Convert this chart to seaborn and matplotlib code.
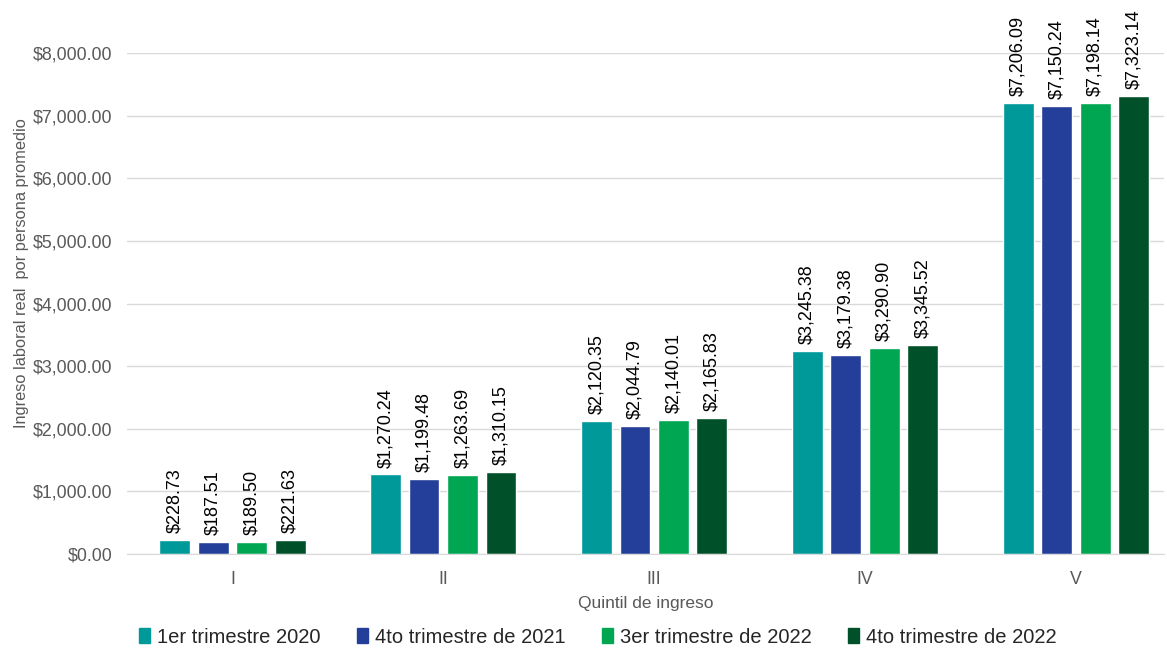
import numpy as np
import pandas as pd
import matplotlib.pyplot as plt
import seaborn as sns
from matplotlib.patches import Patch
from matplotlib.ticker import FuncFormatter

# ── Data ─────────────────────────────────────────────────────────────────────
quintiles = ['I', 'II', 'III', 'IV', 'V']
series = ['1er trimestre 2020', '4to trimestre de 2021',
          '3er trimestre de 2022', '4to trimestre de 2022']
t1_2020 = [228.73, 1270.24, 2120.35, 3245.38, 7206.09]
t4_2021 = [187.51, 1199.48, 2044.79, 3179.38, 7150.24]
t3_2022 = [189.50, 1263.69, 2140.01, 3290.90, 7198.14]
t4_2022 = [221.63, 1310.15, 2165.83, 3345.52, 7323.14]
colors = ['#009999', '#233F99', '#00A651', '#00512A']

df = pd.DataFrame({
    'quintil': quintiles * 4,
    'serie': np.repeat(series, len(quintiles)),
    'valor': t1_2020 + t4_2021 + t3_2022 + t4_2022,
})

# ── Plot ─────────────────────────────────────────────────────────────────────
sns.set_style('white')
plt.rcParams['font.family'] = ['Liberation Sans', 'DejaVu Sans']

fig = plt.figure(figsize=(11.67, 6.53), dpi=100)
ax = fig.add_axes([0.1088, 0.1516, 0.889, 0.767])

sns.barplot(data=df, x='quintil', y='valor', hue='serie', hue_order=series,
            order=quintiles, palette=colors, width=0.73, gap=0.2,
            saturation=1, ax=ax, legend=False, errorbar=None)

money = lambda v: f'${v:,.2f}'
for cont in ax.containers:
    ax.bar_label(cont, labels=[money(b.get_height()) for b in cont],
                 rotation=90, padding=5, fontsize=13, color='black',
                 clip_on=False)

ax.set_ylim(0, 8000)
ax.set_xlim(-0.5, 4.42)
ax.set_yticks(np.arange(0, 8001, 1000))
ax.yaxis.set_major_formatter(FuncFormatter(lambda v, _: money(v)))
ax.grid(axis='y', color='#d9d9d9', lw=1)
ax.set_axisbelow(True)
for s in ['top', 'right', 'left']:
    ax.spines[s].set_visible(False)
ax.spines['bottom'].set_color('#d9d9d9')
ax.tick_params(axis='y', labelsize=12.8, colors='#595959', length=0, pad=10.5)
ax.tick_params(axis='x', labelsize=12.8, colors='#595959', length=0, pad=12)

ax.set_xlabel('Quintil de ingreso', fontsize=12.5, color='#595959', labelpad=6)
ax.set_ylabel('Ingreso laboral real  por persona promedio', fontsize=11.8,
              color='#595959')
ax.yaxis.set_label_coords(-0.094, 0.56)

handles = [Patch(color=c, label=s) for c, s in zip(colors, series)]
fig.legend(handles=handles, loc='lower center', ncol=4, frameon=False,
           bbox_to_anchor=(0.512, -0.018), fontsize=14.5, handlelength=0.55,
           handleheight=0.75, handletextpad=0.35, columnspacing=1.8)

plt.savefig('out.png', dpi=100)
